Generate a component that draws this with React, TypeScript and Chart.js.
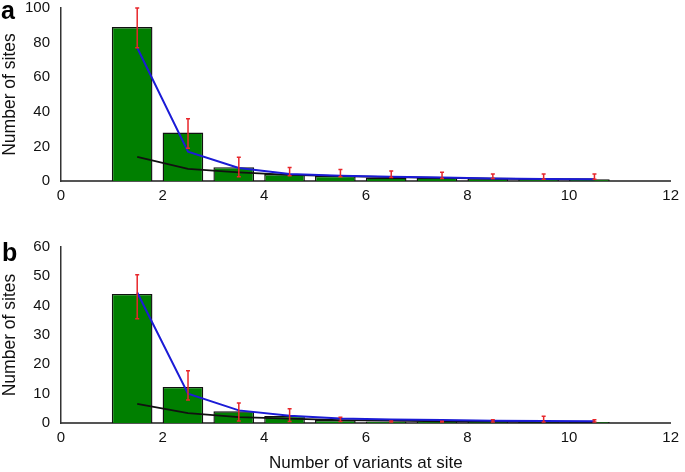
import React, { useEffect, useRef } from "react";
import { Chart, registerables } from "chart.js";

Chart.register(...registerables);

// Number of variants at a site (bins)
const variants = [1, 2, 3, 4, 5, 6, 7, 8, 9, 10];
const xTicks = [0, 2, 4, 6, 8, 10, 12];

// Panel a
const barsA = [89, 28, 8, 4, 3, 2, 2, 1.5, 1, 1];
const blueA = [77, 17, 7.5, 4, 3, 2.5, 2, 1.5, 1.2, 1];
const blackA = [14, 7, 5, 3.5, 2.8, 2.2, 1.8, 1.4, 1.1, 0.9];
const errLowA = [77, 19, 2.5, 3, 2.5, 2, 1.5, 1.5, 1, 1];
const errHighA = [100, 36, 13.7, 7.8, 6.7, 5.8, 5, 4, 4, 4];

// Panel b
const barsB = [44, 12.3, 4, 2.4, 1, 0.5, 0.5, 0.5, 0.3, 0.3];
const blueB = [44.5, 10, 4.3, 2.5, 1.5, 1.2, 1, 0.8, 0.7, 0.6];
const blackB = [6.5, 3.4, 2, 1.5, 1, 0.8, 0.6, 0.5, 0.4, 0.3];
const errLowB = [35.5, 7.8, 0.7, 0.5, 0.5, 0.3, 0.3, 0.3, 0.3, 0.3];
const errHighB = [50.5, 17.8, 6.8, 4.9, 2, 0.7, 0.6, 1.1, 2.3, 1.1];

const FONT = "'Liberation Sans', Arial, Helvetica, sans-serif";

type PanelProps = {
  bars: number[];
  blue: number[];
  black: number[];
  errLow: number[];
  errHigh: number[];
  yMax: number;
  yStep: number;
  width: number;
  height: number;
  padTop: number;
  xAxisHeight: number;
  showXTitle: boolean;
};

function Panel(p: PanelProps) {
  const ref = useRef<HTMLCanvasElement | null>(null);
  useEffect(() => {
    if (!ref.current) return;
    const errorBars = {
      id: "errorBars",
      afterDatasetsDraw(chart: any) {
        const { ctx, scales } = chart;
        const xs = scales.x;
        const ys = scales.y;
        ctx.save();
        ctx.strokeStyle = "#e8262b";
        ctx.lineWidth = 1.5;
        variants.forEach((v, i) => {
          const x = xs.getPixelForValue(v + 0.5);
          const y1 = ys.getPixelForValue(p.errLow[i]);
          const y2 = ys.getPixelForValue(p.errHigh[i]);
          ctx.beginPath();
          ctx.moveTo(x, y1);
          ctx.lineTo(x, y2);
          ctx.moveTo(x - 2, y1);
          ctx.lineTo(x + 2, y1);
          ctx.moveTo(x - 2, y2);
          ctx.lineTo(x + 2, y2);
          ctx.stroke();
        });
        ctx.restore();
      },
    };
    const chart = new Chart(ref.current, {
      type: "bar",
      data: {
        datasets: [
          {
            type: "line",
            data: variants.map((v, i) => ({ x: v + 0.5, y: p.blue[i] })),
            borderColor: "#1b1bd6",
            borderWidth: 2,
            pointRadius: 0,
            tension: 0,
            order: 1,
          } as any,
          {
            type: "line",
            data: variants.map((v, i) => ({ x: v + 0.5, y: p.black[i] })),
            borderColor: "#111111",
            borderWidth: 1.8,
            pointRadius: 0,
            tension: 0,
            order: 2,
          } as any,
          {
            type: "bar",
            data: variants.map((v, i) => ({ x: v + 0.4, y: p.bars[i] })),
            backgroundColor: "#007f00",
            borderColor: "#111111",
            borderWidth: 1.4,
            barPercentage: 0.8,
            categoryPercentage: 1,
            order: 3,
          } as any,
        ],
      },
      options: {
        animation: false,
        responsive: false,
        events: [],
        layout: { padding: { top: p.padTop, right: 10, left: 0, bottom: 0 } },
        plugins: { legend: { display: false }, tooltip: { enabled: false } },
        scales: {
          x: {
            type: "linear",
            min: 0,
            max: 12,
            offset: false,
            afterBuildTicks: (s: any) => {
              s.ticks = xTicks.map((v) => ({ value: v }));
            },
            afterFit: (s: any) => {
              s.height = p.xAxisHeight;
            },
            grid: { display: false, drawTicks: false },
            border: { display: true, color: "#555555", width: 2 },
            ticks: {
              font: { family: FONT, size: 15 },
              color: "#111111",
              padding: 6,
              maxRotation: 0,
              autoSkip: false,
            },
            title: {
              display: p.showXTitle,
              text: "Number of variants at site",
              font: { family: FONT, size: 17 },
              color: "#111111",
              padding: { top: 0, bottom: -2 },
            },
          },
          y: {
            min: 0,
            max: p.yMax,
            afterFit: (s: any) => {
              s.width = 61;
              s.paddingTop = 0;
              s.paddingBottom = 0;
            },
            grid: { display: false, drawTicks: false },
            border: { display: true, color: "#333333", width: 1.5 },
            ticks: {
              stepSize: p.yStep,
              font: { family: FONT, size: 15 },
              color: "#111111",
              padding: 11,
            },
            title: {
              display: true,
              text: "Number of sites",
              font: { family: FONT, size: 17.5 },
              color: "#111111",
              padding: { top: 0, bottom: 0 },
            },
          },
        },
      },
      plugins: [errorBars],
    } as any);
    return () => chart.destroy();
  }, []);
  return <canvas ref={ref} width={p.width} height={p.height} style={{ display: "block" }} />;
}

export default function App() {
  return (
    <div
      style={{
        position: "absolute",
        left: 0,
        top: 0,
        width: 685,
        height: 472,
        background: "#ffffff",
        overflow: "hidden",
      }}
    >
      <div style={{ position: "absolute", left: 0, top: 0 }}>
        <Panel
          bars={barsA}
          blue={blueA}
          black={blackA}
          errLow={errLowA}
          errHigh={errHighA}
          yMax={100}
          yStep={20}
          width={685}
          height={210}
          padTop={8}
          xAxisHeight={29}
          showXTitle={false}
        />
      </div>
      <div style={{ position: "absolute", left: 0, top: 235 }}>
        <Panel
          bars={barsB}
          blue={blueB}
          black={blackB}
          errLow={errLowB}
          errHigh={errHighB}
          yMax={60}
          yStep={10}
          width={685}
          height={237}
          padTop={12}
          xAxisHeight={49}
          showXTitle={true}
        />
      </div>
      <div
        style={{
          position: "absolute",
          left: 1,
          top: -2,
          font: `bold 25px ${FONT}`,
          lineHeight: "24px",
          color: "#000",
        }}
      >
        a
      </div>
      <div
        style={{
          position: "absolute",
          left: 2,
          top: 240,
          font: `bold 25px ${FONT}`,
          lineHeight: "24px",
          color: "#000",
        }}
      >
        b
      </div>
    </div>
  );
}
